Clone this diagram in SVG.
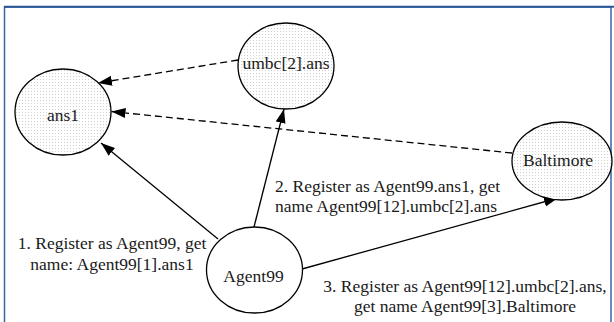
<svg xmlns="http://www.w3.org/2000/svg" width="614" height="322" viewBox="0 0 614 322" font-family="'Liberation Serif', 'Times New Roman', 'DejaVu Serif', serif">
  <style>
    .node { stroke: #000; stroke-width: 1.3; }
    .dotted { fill: url(#dots); }
    .plain { fill: #fff; }
    text { font-family: "Liberation Serif", "Times New Roman", "DejaVu Serif", serif; font-size: 17.5px; fill: #1a1a1a; }
    .edge { stroke: #000; stroke-width: 1.3; fill: none; }
    .dash { stroke-dasharray: 7 4; }
  </style>
  <defs>
    <pattern id="dots" width="3" height="3" patternUnits="userSpaceOnUse">
      <rect width="3" height="3" fill="#fff"/>
      <rect x="1" y="1" width="1" height="1" fill="#cfcfcf"/>
    </pattern>
    <marker id="arrow" markerWidth="15" markerHeight="11" refX="14" refY="5" orient="auto" markerUnits="userSpaceOnUse">
      <path d="M0,0 L14,5 L0,10 z" fill="#000"/>
    </marker>
  </defs>
  <rect x="0" y="0" width="614" height="322" fill="#fff"/>
  <rect x="4.5" y="7" width="606.5" height="320" fill="none" stroke="#3a66a6" stroke-width="1.5"/>
  <line x1="4" y1="6.8" x2="614" y2="6.8" stroke="#2b5797" stroke-width="2"/>

  <g id="connectors">
    <line class="edge" x1="218" y1="239" x2="101" y2="143" marker-end="url(#arrow)"/>
    <line class="edge" x1="254" y1="227" x2="284" y2="109" marker-end="url(#arrow)"/>
    <line class="edge" x1="302" y1="269" x2="558" y2="198" marker-end="url(#arrow)"/>
    <line class="edge dash" x1="238" y1="60" x2="98" y2="83" marker-end="url(#arrow)"/>
    <line class="edge dash" x1="512" y1="153" x2="111.5" y2="111.5" marker-end="url(#arrow)"/>
  </g>

  <g id="ans1">
    <ellipse class="node dotted" cx="63" cy="112" rx="48" ry="43"/>
    <text x="63" y="121" text-anchor="middle">ans1</text>
  </g>
  <g id="umbc">
    <ellipse class="node dotted" cx="286" cy="66" rx="48" ry="43"/>
    <text x="286" y="69" text-anchor="middle">umbc[2].ans</text>
  </g>
  <g id="baltimore">
    <ellipse class="node dotted" cx="562" cy="161" rx="50" ry="39"/>
    <text x="558" y="166" text-anchor="middle">Baltimore</text>
  </g>
  <g id="agent99">
    <ellipse class="node plain" cx="254.5" cy="270" rx="48" ry="43"/>
    <text x="253.5" y="282" text-anchor="middle">Agent99</text>
  </g>

  <g id="labels">
    <text x="112" y="249" text-anchor="middle">1. Register as Agent99, get</text>
    <text x="112" y="270" text-anchor="middle">name: Agent99[1].ans1</text>
    <text x="275" y="192">2. Register as Agent99.ans1, get</text>
    <text x="275" y="212">name Agent99[12].umbc[2].ans</text>
    <text x="465" y="292" text-anchor="middle">3. Register as Agent99[12].umbc[2].ans,</text>
    <text x="465" y="312" text-anchor="middle">get name Agent99[3].Baltimore</text>
  </g>
</svg>
